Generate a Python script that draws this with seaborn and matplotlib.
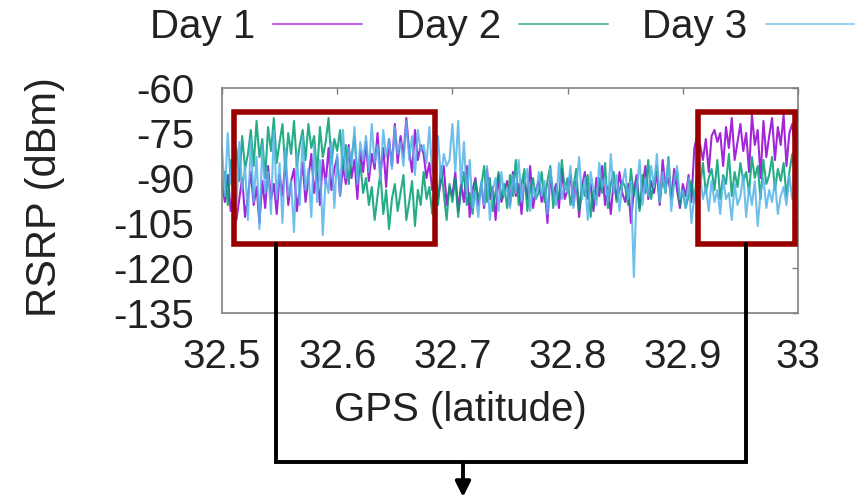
import seaborn as sns
import matplotlib.pyplot as plt
import pandas as pd
import numpy as np
from matplotlib.lines import Line2D
from matplotlib.patches import Rectangle, FancyArrowPatch

sns.set_style("white")
plt.rcParams["font.family"] = ["Liberation Sans", "DejaVu Sans"]
plt.rcParams["axes.unicode_minus"] = False

# RSRP samples (dBm) along latitude 32.5 -> 33.0, one every 0.0025 deg
day1 = [
    -92, -98, -89, -101, -95, -104, -97, -90, -103, -96,
    -88, -99, -93, -105, -91, -100, -86, -97, -92, -102,
    -89, -96, -84, -99, -91, -87, -101, -93, -85, -98,
    -90, -82, -95, -88, -99, -84, -92, -80, -94, -87,
    -83, -96, -86, -92, -79, -90, -84, -97, -81, -88,
    -78, -91, -82, -87, -75, -89, -80, -93, -77, -86,
    -72, -85, -76, -83, -70, -81, -88, -74, -84, -79,
    -82, -90, -85, -94, -88, -97, -91, -86, -99, -93,
    -96, -88, -101, -92, -98, -86, -103, -94, -90, -99,
    -92, -100, -87, -97, -93, -104, -89, -98, -95, -91,
    -99, -88, -96, -92, -102, -90, -97, -86, -100, -94,
    -91, -98, -93, -105, -89, -96, -92, -100, -87, -97,
    -94, -89, -99, -91, -103, -93, -88, -97, -92, -101,
    -90, -96, -86, -99, -93, -102, -91, -97, -88, -95,
    -98, -92, -105, -94, -89, -100, -93, -86, -97, -91,
    -95, -88, -99, -84, -93, -90, -97, -87, -94, -100,
    -92, -96, -89, -98, -80, -76, -79, -84, -77, -88,
    -76, -74, -78, -75, -86, -73, -80, -70, -84, -78,
    -72, -81, -75, -88, -69, -79, -74, -90, -71, -83,
    -76, -70, -84, -73, -79, -69, -86, -75, -72, -80,
    -77,
]
day2 = [
    -94, -88, -99, -84, -96, -80, -91, -76, -87, -82,
    -74, -86, -71, -83, -77, -90, -73, -81, -70, -85,
    -78, -72, -88, -75, -82, -71, -86, -79, -74, -84,
    -72, -80, -76, -89, -73, -83, -78, -70, -85, -77,
    -81, -74, -87, -79, -92, -83, -76, -89, -85, -95,
    -90, -99, -93, -104, -96, -88, -102, -94, -107, -97,
    -92, -101, -95, -89, -104, -98, -91, -106, -94, -99,
    -88, -97, -93, -102, -90, -99, -86, -95, -104, -92,
    -98, -90, -103, -94, -88, -99, -95, -102, -91, -97,
    -93, -86, -98, -90, -101, -95, -88, -97, -92, -100,
    -89, -96, -84, -99, -92, -87, -101, -94, -90, -97,
    -95, -88, -98, -91, -86, -100, -93, -97, -84, -94,
    -90, -99, -93, -87, -101, -92, -96, -89, -103, -94,
    -97, -90, -95, -85, -100, -92, -88, -98, -94, -91,
    -93, -99, -87, -96, -91, -101, -89, -95, -84, -97,
    -92, -86, -98, -90, -95, -83, -97, -91, -88, -99,
    -94, -100, -96, -91, -98, -88, -93, -85, -95, -90,
    -87, -94, -84, -97, -89, -92, -82, -96, -88, -93,
    -85, -91, -88, -95, -83, -90, -86, -97, -84, -92,
    -89, -83, -94, -87, -91, -85, -96, -88, -82, -90,
    -87,
]
day3 = [
    -80, -96, -75, -92, -84, -100, -78, -94, -86, -104,
    -77, -98, -83, -107, -79, -95, -88, -102, -74, -97,
    -85, -105, -80, -96, -91, -108, -82, -99, -76, -94,
    -87, -103, -79, -98, -84, -109, -90, -95, -78, -100,
    -82, -96, -74, -90, -80, -86, -73, -92, -78, -84,
    -76, -88, -72, -85, -79, -91, -74, -83, -77, -87,
    -73, -82, -78, -86, -71, -84, -76, -89, -74, -81,
    -79, -85, -73, -88, -80, -76, -90, -82, -86, -84,
    -72, -88, -71, -92, -78, -96, -84, -100, -95, -103,
    -91, -99, -86, -104, -94, -90, -101, -88, -96, -93,
    -100, -89, -95, -84, -98, -92, -87, -101, -93, -97,
    -88, -96, -91, -102, -87, -94, -99, -85, -97, -92,
    -95, -86, -100, -93, -83, -97, -90, -104, -88, -94,
    -99, -85, -93, -90, -98, -82, -95, -89, -101, -92,
    -87, -97, -91, -123, -94, -84, -99, -90, -96, -86,
    -93, -82, -98, -88, -95, -84, -101, -91, -86, -97,
    -94, -100, -90, -105, -96, -92, -89, -97, -93, -101,
    -91, -98, -94, -102, -90, -97, -95, -104, -92, -99,
    -96, -89, -103, -93, -99, -91, -106, -95, -90, -100,
    -94, -98, -91, -102, -96, -93, -99, -89, -97, -92,
    -95,
]
days = ["Day 1", "Day 2", "Day 3"]
colors = ["#9400d3", "#009e73", "#56b4e9"]
lat = np.linspace(32.5, 33.0, len(day1))

df = pd.concat([
    pd.DataFrame({"lat": lat, "rsrp": v, "day": d})
    for d, v in zip(days, [day1, day2, day3])
])

W, H = 856, 498
fig = plt.figure(figsize=(W / 100, H / 100), dpi=100)
ax = fig.add_axes([222 / W, 1 - 313 / H, 576 / W, 225 / H])

sns.lineplot(data=df, x="lat", y="rsrp", hue="day", palette=dict(zip(days, colors)),
             estimator=None, sort=False, lw=1.5, alpha=0.85, legend=False, ax=ax)

ax.set_xlim(32.5, 33.0)
ax.set_ylim(-135, -60)
ax.set_xticks([32.5, 32.6, 32.7, 32.8, 32.9, 33.0])
ax.set_xticklabels(["32.5", "32.6", "32.7", "32.8", "32.9", "33"])
ax.set_yticks([-135, -120, -105, -90, -75, -60])
ax.tick_params(direction="in", length=4.5, width=1, color="#808080",
               top=True, right=True, labelsize=29, colors="#222222")
ax.tick_params(axis="y", pad=20)
ax.tick_params(axis="x", pad=18)
for s in ax.spines.values():
    s.set_color("#808080")
    s.set_linewidth(1.2)

ax.set_xlabel("GPS (latitude)", fontsize=29, color="#222222")
ax.xaxis.set_label_coords((460 - 222) / 576, (313 - 410) / 225)
ax.xaxis.label.set_va("center")
ax.set_ylabel("RSRP (dBm)", fontsize=30, color="#222222")
ax.yaxis.set_label_coords((45 - 222) / 576, (313 - 197) / 225)
ax.yaxis.label.set_va("center")

# highlighted regions
for x0, x1 in [(32.510, 32.685), (32.913, 32.997)]:
    ax.add_patch(Rectangle((x0, -112), x1 - x0, 44, fill=False,
                           ec="#990000", lw=4, zorder=5))

# connector below the axes (figure pixel coords)
def fx(px):
    return px / W

def fy(py):
    return 1 - py / H

fig.add_artist(Line2D([fx(276), fx(276), fx(746), fx(746)],
                      [fy(244), fy(462), fy(462), fy(244)],
                      color="black", lw=2.8, transform=fig.transFigure,
                      solid_joinstyle="miter"))
fig.add_artist(FancyArrowPatch((fx(463), fy(462)), (fx(463), fy(497)),
                               transform=fig.transFigure,
                               arrowstyle="-|>,head_length=9,head_width=4.5",
                               color="black", lw=2.8, shrinkA=0, shrinkB=0))

handles = [Line2D([], [], color=c, lw=1.5, alpha=0.6) for c in colors]
fig.legend(handles, days, loc="center left", bbox_to_anchor=(150 / W, fy(27)),
           ncol=3, frameon=False, markerfirst=False, fontsize=29,
           handlelength=2.2, handletextpad=0.45, columnspacing=0.85,
           borderpad=0, borderaxespad=0, labelcolor="#222222")

fig.savefig("out.png", dpi=100)
plt.close(fig)
